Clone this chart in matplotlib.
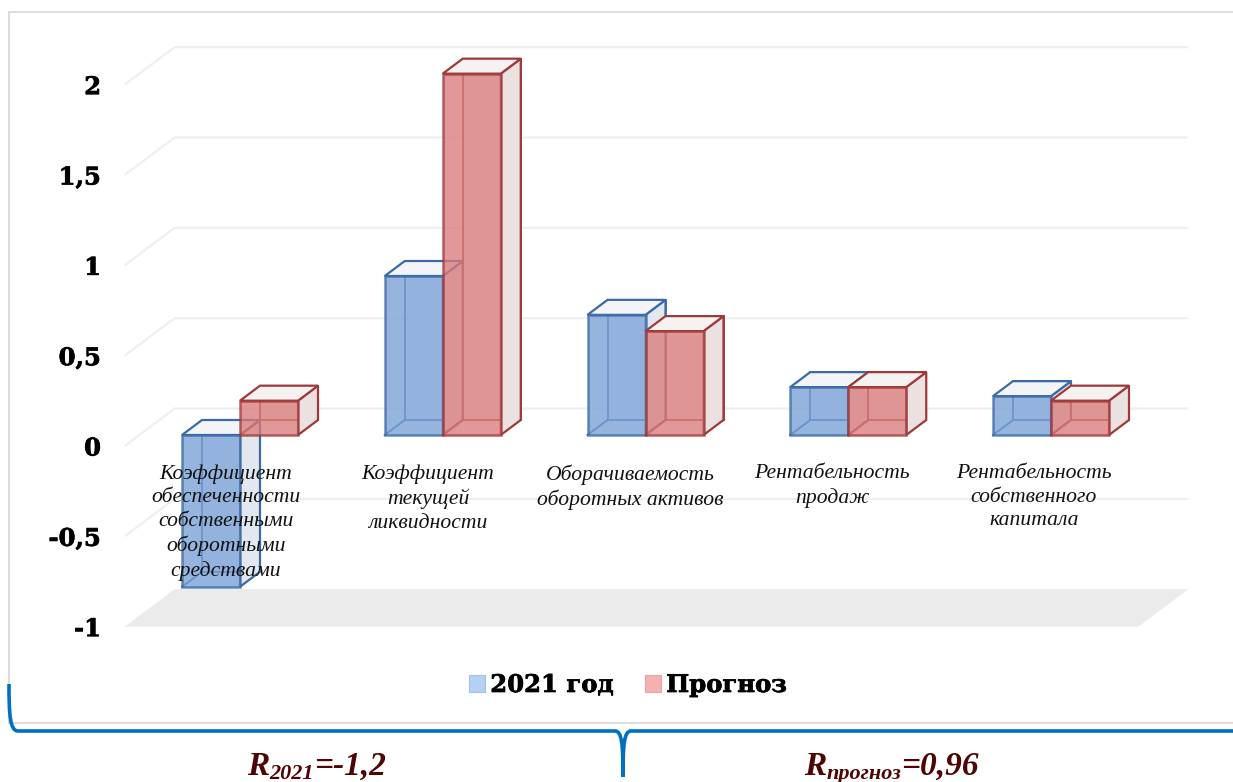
import matplotlib
matplotlib.use("Agg")
import matplotlib.pyplot as plt
import matplotlib.patheffects as pe
from matplotlib.patches import Polygon, PathPatch, Rectangle
from matplotlib.path import Path
from matplotlib.transforms import Affine2D

categories = ["Коэффициент\nобеспеченности\nсобственными\nоборотными\nсредствами",
              "Коэффициент\nтекущей\nликвидности",
              "Оборачиваемость\nоборотных активов",
              "Рентабельность\nпродаж",
              "Рентабельность\nсобственного\nкапитала"]
series_2021 = [-0.84, 0.88, 0.665, 0.265, 0.215]
series_forecast = [0.19, 2.0, 0.575, 0.265, 0.19]
y_ticks = [-1, -0.5, 0, 0.5, 1, 1.5, 2]
y_tick_labels = ["-1", "-0,5", "0", "0,5", "1", "1,5", "2"]

W, H = 1233, 782
fig = plt.figure(figsize=(W / 100, H / 100), dpi=100)
ax = fig.add_axes([0, 0, 1, 1])
PX_CAT, PX_UNIT = 202.75, 180.67
ax.set_xlim(-226 / PX_CAT, (W - 226) / PX_CAT)
ax.set_ylim((446 - H) / PX_UNIT, 446 / PX_UNIT)
for s in ax.spines.values():
    s.set_visible(False)
ax.patch.set_visible(False)


def px(x, y):
    return (x, H - y)


idt = Affine2D()

# chart border
ax.add_patch(Polygon([px(9, 723), px(9, 12), px(W + 5, 12)], closed=False, fill=False,
                     ec="#d9d9d9", lw=1.3, transform=idt, zorder=1))
ax.add_line(plt.Line2D([9, W], [H - 723, H - 723], color="#d9d9d9", lw=1.3, transform=idt, zorder=1))

# walls and floor
wall = ax.transData + Affine2D().translate(50, 37.5)
for v in y_ticks[1:]:
    a = ax.transData.transform((-0.5, v))
    b = wall.transform((-0.5, v))
    c = wall.transform((4.5, v))
    ax.plot([a[0], b[0], c[0]], [a[1], b[1], c[1]], color="#efefef", lw=1.6,
            transform=idt, zorder=1, solid_capstyle="butt")
f0, f1 = ax.transData.transform([(-0.5, -1), (4.5, -1)])
ax.add_patch(Polygon([f0, f1, wall.transform((4.5, -1)), wall.transform((-0.5, -1))],
                     fc="#ebebeb", ec="none", transform=idt, zorder=1))

# 3-D boxes
front = ax.transData + Affine2D().translate(14, 11)
back = ax.transData + Affine2D().translate(34, 26)
DX, DY = 20, 15
BW = 58 / PX_CAT


def boxes(xs, vals, face, edge, side, top, label, z):
    ax.bar(xs, vals, BW, align="edge", transform=back, fc=top, ec=edge, lw=1.4, alpha=0.9, zorder=z)
    for x, v in zip(xs, vals):
        hi = max(v, 0)
        lo = min(v, 0)
        p0 = front.transform((x + BW, lo))
        p1 = front.transform((x + BW, hi))
        p2 = front.transform((x, hi))
        ax.add_patch(Polygon([p0, p1, p1 + (DX, DY), p0 + (DX, DY)], fc=side, ec=edge, lw=1.6,
                             transform=idt, zorder=z + 0.1))
        ax.add_patch(Polygon([p2, p1, p1 + (DX, DY), p2 + (DX, DY)], fc=top, ec=edge, lw=1.6,
                             transform=idt, zorder=z + 0.1))
        q0 = front.transform((x, lo))
        ax.plot([q0[0], q0[0] + DX], [q0[1], q0[1] + DY], color=edge, lw=1.4, transform=idt, zorder=z + 0.1)
    return ax.bar(xs, vals, BW, align="edge", transform=front, fc=face, ec=edge, lw=1.8,
                  alpha=0.78, zorder=z + 0.2, label=label)


idx = list(range(len(categories)))
b1 = boxes([i - BW for i in idx], series_2021, "#78a0d6", "#3c6aa4", "#e3e8f0", "#f2f4f8", "2021 год", 3)
b2 = boxes(idx, series_forecast, "#da7b7b", "#9e3a3a", "#ebe1e1", "#f7f2f2", "Прогноз", 4)

# axes labels
heavy = [pe.withStroke(linewidth=0.5, foreground="black")]
ax.set_xticks([])
ax.set_yticks(y_ticks, y_tick_labels)
ax.tick_params(axis="y", length=0, pad=-72.7)
for t in ax.get_yticklabels():
    t.set_fontfamily("DejaVu Serif")
    t.set_fontweight("bold")
    t.set_fontsize(17.5)
    t.set_color("black")
    t.set_zorder(6)
    t.set_path_effects(heavy)

for i, lab in enumerate(categories):
    ax.text(i * 202 / PX_CAT, -18 / PX_UNIT, lab, ha="center", va="top", family="Liberation Serif",
            style="italic", fontsize=15.6, linespacing=1.33, color="#111111", zorder=8)

handles = [Rectangle((0, 0), 1, 1, fc="#b4d0f2", ec="#a3c3ea", lw=0.8),
           Rectangle((0, 0), 1, 1, fc="#f5b0b0", ec="#eea3a3", lw=0.8)]
leg = ax.legend(handles, ["2021 год", "Прогноз"], ncol=2, loc="center", bbox_to_anchor=(628 / W, 1 - 685 / H),
                frameon=False, handlelength=0.66, handleheight=0.7, handletextpad=0.2, columnspacing=1.32,
                prop={"family": "DejaVu Serif", "weight": "bold", "size": 17.5})
for t in leg.get_texts():
    t.set_path_effects(heavy)

# brace
brace = Path(
    [px(9, 684), px(9, 715), px(10, 731), px(18, 731), px(615, 731), px(622, 731), px(623, 745), px(623, 777),
     px(623, 745), px(624, 731), px(631, 731), px(1233, 731)],
    [Path.MOVETO, Path.CURVE4, Path.CURVE4, Path.CURVE4, Path.LINETO, Path.CURVE4, Path.CURVE4, Path.CURVE4,
     Path.CURVE4, Path.CURVE4, Path.CURVE4, Path.LINETO])
ax.add_patch(PathPatch(brace, fc="none", ec="#0070c0", lw=2.6, transform=idt, zorder=7, capstyle="butt"))


def formula(x, y, base, sub, tail):
    kw = dict(family="Liberation Serif", weight="bold", style="italic", color="#4d0505", va="baseline")
    renderer = fig.canvas.get_renderer()
    for s, size, dy in ((base, 24, 0), (sub, 16, 4), (tail, 24, 0)):
        t = fig.text(x / W, 1 - (y + dy) / H, s, fontsize=size, **kw)
        x += t.get_window_extent(renderer).width


formula(247, 775, "R", "2021", "=-1,2")
formula(804, 775, "R", "прогноз", "=0,96")

fig.savefig("out.png", dpi=100)
